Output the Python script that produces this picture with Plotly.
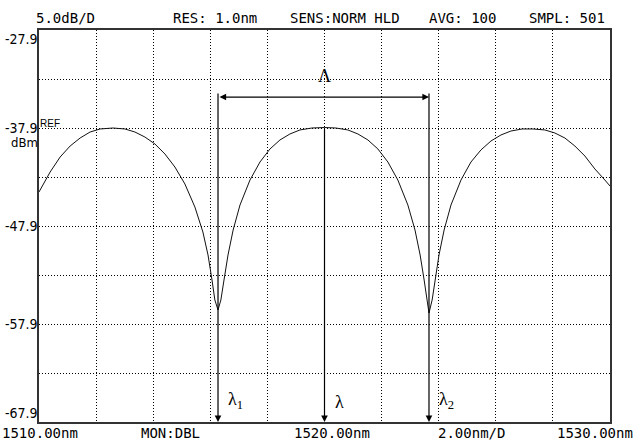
import plotly.graph_objects as go

# ---- data ----
wavelength_nm = [1510.00, 1510.39, 1510.74, 1511.09, 1511.44, 1511.79, 1512.14, 1512.59,
                 1513.01, 1513.36, 1513.71, 1514.06, 1514.41, 1514.76, 1515.11, 1515.46,
                 1515.74, 1515.92, 1516.06, 1516.16, 1516.27, 1516.37, 1516.48, 1516.62,
                 1516.80, 1517.04, 1517.39, 1517.74, 1518.09, 1518.44, 1518.79, 1519.14,
                 1519.56, 1520.00, 1520.40, 1520.82, 1521.17, 1521.52, 1521.87, 1522.22,
                 1522.57, 1522.92, 1523.17, 1523.35, 1523.49, 1523.59, 1523.66, 1523.77,
                 1523.87, 1524.01, 1524.19, 1524.43, 1524.78, 1525.13, 1525.48, 1525.83,
                 1526.18, 1526.53, 1526.92, 1527.30, 1527.72, 1528.07, 1528.42, 1528.77,
                 1529.12, 1529.47, 1529.82, 1530.00]
power_dbm = [-44.43, -42.39, -40.86, -39.74, -38.92, -38.31, -38.00, -37.90,
             -38.00, -38.31, -38.82, -39.53, -40.55, -41.88, -43.61, -45.96,
             -48.51, -50.86, -53.41, -55.45, -56.47, -55.45, -53.41, -50.86,
             -48.31, -45.76, -43.21, -41.37, -40.04, -39.12, -38.51, -38.10,
             -37.90, -37.85, -37.90, -38.10, -38.51, -39.12, -40.04, -41.37,
             -43.21, -45.76, -48.31, -50.86, -53.41, -55.45, -56.78, -55.45,
             -53.41, -50.86, -48.31, -45.76, -43.21, -41.37, -40.14, -39.23,
             -38.61, -38.21, -38.00, -38.00, -38.10, -38.41, -38.92, -39.74,
             -40.76, -42.08, -43.21, -43.82]

lambda_1 = 1516.27
lambda_c = 1520.00
lambda_2 = 1523.66
span_level = -34.74
marker_top = -34.23
peak_level = -37.9

x_range = [1510, 1530]
x_grid = [1510, 1512, 1514, 1516, 1518, 1520, 1522, 1524, 1526, 1528, 1530]
y_range = [-67.9, -27.9]
y_grid = [-67.9, -62.9, -57.9, -52.9, -47.9, -42.9, -37.9, -32.9, -27.9]
y_label_vals = [-27.9, -37.9, -47.9, -57.9, -67.9]
y_label_text = ['-27.9', '-37.9', '-47.9', '-57.9', '-67.9']

header_texts = ['5.0dB/D', 'RES: 1.0nm', 'SENS:NORM HLD', 'AVG: 100', 'SMPL: 501']
header_px = [65, 215, 345, 462, 567]
footer_texts = ['1510.00nm', 'MON:DBL', '1520.00nm', '2.00nm/D', '1530.00nm']
footer_px = [0, 170, 332, 471, 635]
footer_anchor = ['left', 'center', 'center', 'center', 'right']

W, H = 635, 445
ML, MR, MT, MB = 39, 25, 30, 23
PW = W - ML - MR

def px_to_paper(px):
    return (px - ML) / PW

MONO = "DejaVu Sans Mono, Liberation Mono, monospace"
NARROW = "Liberation Sans Narrow, DejaVu Sans Condensed, Arial Narrow, Liberation Sans, sans-serif"
SERIF = "Liberation Serif, DejaVu Serif, Times New Roman, serif"

fig = go.Figure()
fig.add_trace(go.Scatter(x=wavelength_nm, y=power_dbm, mode='lines',
                         line=dict(color='#111111', width=1), hoverinfo='skip'))

annotations = []
for t, p in zip(header_texts, header_px):
    annotations.append(dict(text=t, xref='paper', yref='paper', x=px_to_paper(p), y=1,
                            xanchor='center', yanchor='middle', yshift=12, showarrow=False,
                            font=dict(family=MONO, size=14, color='black')))
for t, p, a in zip(footer_texts, footer_px, footer_anchor):
    annotations.append(dict(text=t, xref='paper', yref='paper', x=px_to_paper(p), y=0,
                            xanchor=a, yanchor='middle', yshift=-11, showarrow=False,
                            font=dict(family=MONO, size=14, color='black')))
for v, t in zip(y_label_vals, y_label_text):
    ya = 'top' if v == y_range[1] else ('bottom' if v == y_range[0] else 'middle')
    annotations.append(dict(text=t, xref='paper', yref='y', x=0, y=v, xanchor='right',
                            yanchor=ya, xshift=0, showarrow=False, borderpad=0,
                            font=dict(family=NARROW, size=14, color='black')))
annotations.append(dict(text='REF', xref='paper', yref='y', x=0, y=peak_level, xanchor='left',
                        yanchor='bottom', showarrow=False, borderpad=0, yshift=-2,
                        font=dict(family="Liberation Sans, sans-serif", size=10, color='black')))
annotations.append(dict(text='dBm', xref='paper', yref='y', x=0, y=peak_level, xanchor='right',
                        yanchor='top', yshift=-6, showarrow=False, borderpad=0,
                        font=dict(family=NARROW, size=13, color='black')))

# marker arrows
arrow_common = dict(xref='x', yref='y', axref='x', ayref='y', text='', showarrow=True,
                    arrowhead=2, arrowsize=1.1, arrowwidth=1.2, arrowcolor='black',
                    standoff=0, startstandoff=0)
for lx, top in [(lambda_1, marker_top), (lambda_c, peak_level), (lambda_2, marker_top)]:
    annotations.append(dict(x=lx, y=y_range[0], ax=lx, ay=top, **arrow_common))
annotations.append(dict(x=lambda_2, y=span_level, ax=lambda_1, ay=span_level,
                        arrowside='end+start', **arrow_common))

annotations.append(dict(text='Λ', xref='x', yref='y', x=lambda_c, y=span_level, xanchor='center',
                        yanchor='bottom', yshift=9, showarrow=False,
                        font=dict(family=SERIF, size=18, color='black')))
for lx, t in [(lambda_1, 'λ<sub>1</sub>'), (lambda_c, 'λ'), (lambda_2, 'λ<sub>2</sub>')]:
    annotations.append(dict(text=t, xref='x', yref='paper', x=lx, y=0, xanchor='left',
                            yanchor='bottom', xshift=8, yshift=8, showarrow=False,
                            font=dict(family=SERIF, size=18, color='black')))

fig.update_layout(
    width=W, height=H,
    margin=dict(l=ML, r=MR, t=MT, b=MB, pad=0),
    paper_bgcolor='white', plot_bgcolor='white',
    showlegend=False,
    annotations=annotations,
    xaxis=dict(range=x_range, tickvals=x_grid, showticklabels=False, ticks='',
               showgrid=True, gridcolor='black', gridwidth=1, griddash='1px,2px',
               showline=True, linecolor='#333333', linewidth=2, mirror=True, zeroline=False),
    yaxis=dict(range=y_range, tickvals=y_grid, showticklabels=False, ticks='',
               showgrid=True, gridcolor='black', gridwidth=1, griddash='1px,2px',
               showline=True, linecolor='#333333', linewidth=2, mirror=True, zeroline=False),
)

fig.write_html("out.html", config={'displayModeBar': False},
               post_script="document.body.style.margin='0';document.body.style.overflow='hidden';")
